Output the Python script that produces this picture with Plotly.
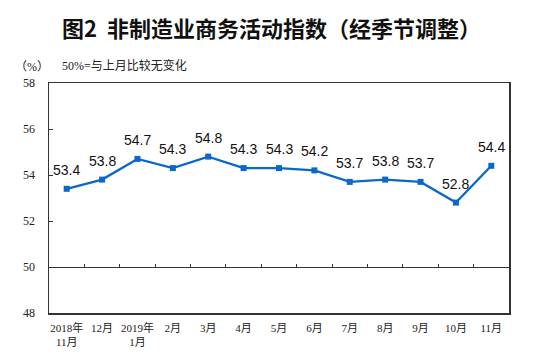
import plotly.graph_objects as go

months = ["2018年<br>11月", "12月", "2019年<br>1月", "2月", "3月", "4月", "5月",
          "6月", "7月", "8月", "9月", "10月", "11月"]
values = [53.4, 53.8, 54.7, 54.3, 54.8, 54.3, 54.3, 54.2, 53.7, 53.8, 53.7, 52.8, 54.4]
y_ticks = [48, 50, 52, 54, 56, 58]

title_text = "图2  非制造业商务活动指数（经季节调整）"
unit_text = "（%）"
note_text = "50%=与上月比较无变化"

blue = "#0b67c9"
serif = "Liberation Serif, 'Noto Sans CJK SC', serif"

L, R, T, B = 49, 26, 83, 47
PW, PH = 535 - L - R, 360 - T - B


def px_x(x):
    return (x - L) / PW


def px_y(y):
    return (360 - B - y) / PH


fig = go.Figure()
fig.add_trace(go.Scatter(
    x=months, y=values, mode="lines+markers",
    line=dict(color=blue, width=2.3),
    marker=dict(symbol="square", size=6, color=blue),
    hoverinfo="skip", showlegend=False, cliponaxis=False,
))
# invisible trace for the axis drawn along the 50 line (boundary ticks)
fig.add_trace(go.Scatter(
    x=months, y=values, xaxis="x2", mode="markers",
    marker=dict(size=1, opacity=0), hoverinfo="skip", showlegend=False,
))

for m, v in zip(months, values):
    fig.add_annotation(x=m, y=v, text=f"{v:.1f}", showarrow=False, yshift=19,
                       xanchor="center", yanchor="middle",
                       font=dict(family="Liberation Sans, Arial", size=14, color="#111"))

fig.add_annotation(xref="paper", yref="paper", x=px_x(271), y=px_y(27),
                   xanchor="center", yanchor="middle",
                   text=f"<b>{title_text}</b>", showarrow=False,
                   font=dict(family="'Noto Sans CJK SC'", size=22, color="#111"))
fig.add_annotation(xref="paper", yref="paper", x=px_x(13), y=px_y(67),
                   xanchor="left", yanchor="middle", text=unit_text, showarrow=False,
                   font=dict(family=serif, size=12, color="#222"))
fig.add_annotation(xref="paper", yref="paper", x=px_x(60), y=px_y(65),
                   xanchor="left", yanchor="middle", text=note_text, showarrow=False,
                   font=dict(family=serif, size=12, color="#222"))

fig.update_layout(
    width=535, height=360,
    margin=dict(l=L, r=R, t=T, b=B),
    paper_bgcolor="white", plot_bgcolor="white",
    xaxis=dict(type="category", categoryarray=months, range=[-0.5, 12.5],
               showline=True, mirror=True, linecolor="#333", linewidth=1.5,
               ticks="", showgrid=False, zeroline=False,
               tickfont=dict(family=serif, size=11, color="#222"),
               ticklabelstandoff=4),
    xaxis2=dict(type="category", categoryarray=months, range=[-0.5, 12.5],
                overlaying="x", anchor="free", position=0.2, side="bottom",
                showline=True, linecolor="#333", linewidth=1.2,
                tickson="boundaries", ticks="inside", ticklen=3, tickcolor="#333",
                showticklabels=False, showgrid=False, zeroline=False),
    yaxis=dict(range=[48, 58], tickvals=y_ticks, showline=True, mirror=True,
               linecolor="#333", linewidth=1.5, ticks="inside", ticklen=4,
               tickcolor="#333", showgrid=False, zeroline=False,
               tickfont=dict(family=serif, size=12, color="#222"),
               ticklabelstandoff=10),
)

fig.write_html("out.html", config={"displayModeBar": False, "staticPlot": True},
               post_script="document.body.style.margin='0';")
